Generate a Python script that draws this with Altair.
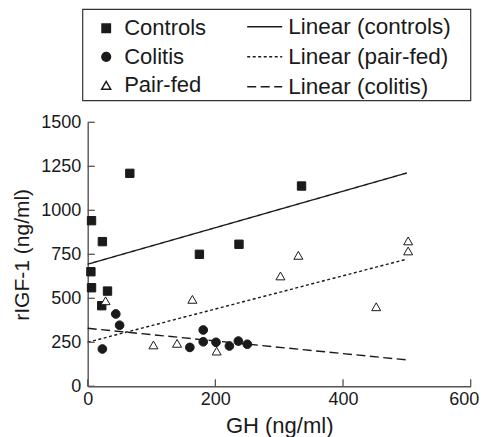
import altair as alt
import pandas as pd

groups = ["Controls", "Colitis", "Pair-fed"]
controls_gh = [66, 6, 23, 175, 237, 335, 5, 6, 31, 22]
controls_igf = [1210, 941, 822, 750, 807, 1138, 651, 560, 541, 458]
colitis_gh = [23, 44, 50, 160, 181, 181, 201, 222, 236, 250]
colitis_igf = [212, 411, 347, 221, 320, 253, 250, 229, 257, 239]
pairfed_gh = [28, 103, 140, 164, 202, 302, 330, 452, 502, 502]
pairfed_igf = [486, 235, 244, 494, 200, 627, 744, 452, 826, 769]
fit_labels = ["Linear (controls)", "Linear (pair-fed)", "Linear (colitis)"]
x_ticks = [0, 200, 400, 600]
y_ticks = [0, 250, 500, 750, 1000, 1250, 1500]

rows = []
for g, xs, ys in [("Controls", controls_gh, controls_igf),
                  ("Colitis", colitis_gh, colitis_igf),
                  ("Pair-fed", pairfed_gh, pairfed_igf)]:
    for a, b in zip(xs, ys):
        rows.append({"GH": a, "IGF": b, "group": g})
df = pd.DataFrame(rows)

FONT = "Liberation Sans"
INK = "#1a1a1a"
AXC = "#555555"
W, H = 383, 264
TOP = 114.3
LEFT = 79.7

xscale = alt.Scale(domain=[0, 600], nice=False, zero=True)
yscale = alt.Scale(domain=[0, 1500], nice=False, zero=True)
xaxis = alt.Axis(values=x_ticks, format="d", ticks=False, tickSize=0, grid=False, domainColor=AXC,
                 domainWidth=1.4, labelPadding=4, titlePadding=7.5, labelFontSize=18,
                 titleFontSize=22, labelFlush=False,
                 labelOffset={"condition": {"test": "datum.value == 600", "value": -7}, "value": 0})
yaxis = alt.Axis(values=y_ticks, format="d", ticks=False, tickSize=0, grid=False, domainColor=AXC,
                 domainWidth=1.4, labelPadding=7, titlePadding=8.5, labelFontSize=18,
                 titleFontSize=21)
XT = "GH (ng/ml)"
YT = "rIGF-1 (ng/ml)"

points = alt.Chart(df).mark_point(filled=True, stroke=INK, strokeWidth=1, opacity=1).encode(
    x=alt.X("GH:Q", scale=xscale, axis=xaxis, title=XT),
    y=alt.Y("IGF:Q", scale=yscale, axis=yaxis, title=YT),
    shape=alt.Shape("group:N", title=None,
                    scale=alt.Scale(domain=groups, range=["square", "circle", "triangle-up"]),
                    legend=alt.Legend(orient="none", legendX=7.5, legendY=-105,
                                      labelFontSize=22, labelOffset=7, rowPadding=6.5,
                                      labelLimit=400, padding=0, labelColor=INK, labelFont=FONT)),
    fill=alt.Fill("group:N", title=None,
                  scale=alt.Scale(domain=groups, range=[INK, INK, "white"])),
    size=alt.Size("group:N", title=None,
                  scale=alt.Scale(domain=groups, range=[70, 81, 135])),
)

lines = alt.Chart(df).transform_regression(
    "GH", "IGF", groupby=["group"], extent=[0, 500]
).transform_calculate(
    fit="'Linear (' + lower(datum.group) + ')'"
).mark_line(color=INK, strokeWidth=1.4).encode(
    x=alt.X("GH:Q", scale=xscale, axis=xaxis, title=XT),
    y=alt.Y("IGF:Q", scale=yscale, axis=yaxis, title=YT),
    strokeDash=alt.StrokeDash("fit:N", title=None,
                              scale=alt.Scale(domain=fit_labels, range=[[1, 0], [3, 2.5], [9, 4.5]]),
                              legend=alt.Legend(orient="none", legendX=158.5, legendY=-114,
                                                symbolType="stroke", symbolSize=1225,
                                                symbolStrokeWidth=1.4, symbolStrokeColor=INK,
                                                labelFontSize=22.5, labelOffset=5, rowPadding=-11,
                                                labelLimit=400, padding=0, labelColor=INK, labelFont=FONT)),
)

xt = alt.Chart(pd.DataFrame({"GH": x_ticks})).mark_rule(color=AXC, strokeWidth=1.3).encode(
    x=alt.X("GH:Q", scale=xscale, axis=xaxis, title=XT),
    y=alt.value(H), y2=alt.value(H - 7),
)
yt = alt.Chart(pd.DataFrame({"IGF": y_ticks})).mark_rule(color=AXC, strokeWidth=1.3).encode(
    y=alt.Y("IGF:Q", scale=yscale, axis=yaxis, title=YT),
    x=alt.value(0), x2=alt.value(7),
)

box = alt.Chart(pd.DataFrame({"a": [0]})).mark_rect(
    fillOpacity=0, stroke="#333333", strokeWidth=1.2
).encode(x=alt.value(-5), x2=alt.value(383), y=alt.value(-113), y2=alt.value(-21.6))

chart = alt.layer(box, lines, points, xt, yt).properties(
    width=W, height=H,
    autosize=alt.AutoSizeParams(type="none"),
    padding={"left": LEFT, "top": TOP, "right": 471 - LEFT - W, "bottom": 429 - TOP - H},
).configure_view(stroke=None).configure_axis(
    labelFont=FONT, titleFont=FONT, labelColor=INK, titleColor=INK, titleFontWeight="normal"
).configure_legend(labelFont=FONT)

chart.save("out.html", embed_options={"renderer": "svg", "actions": False})
